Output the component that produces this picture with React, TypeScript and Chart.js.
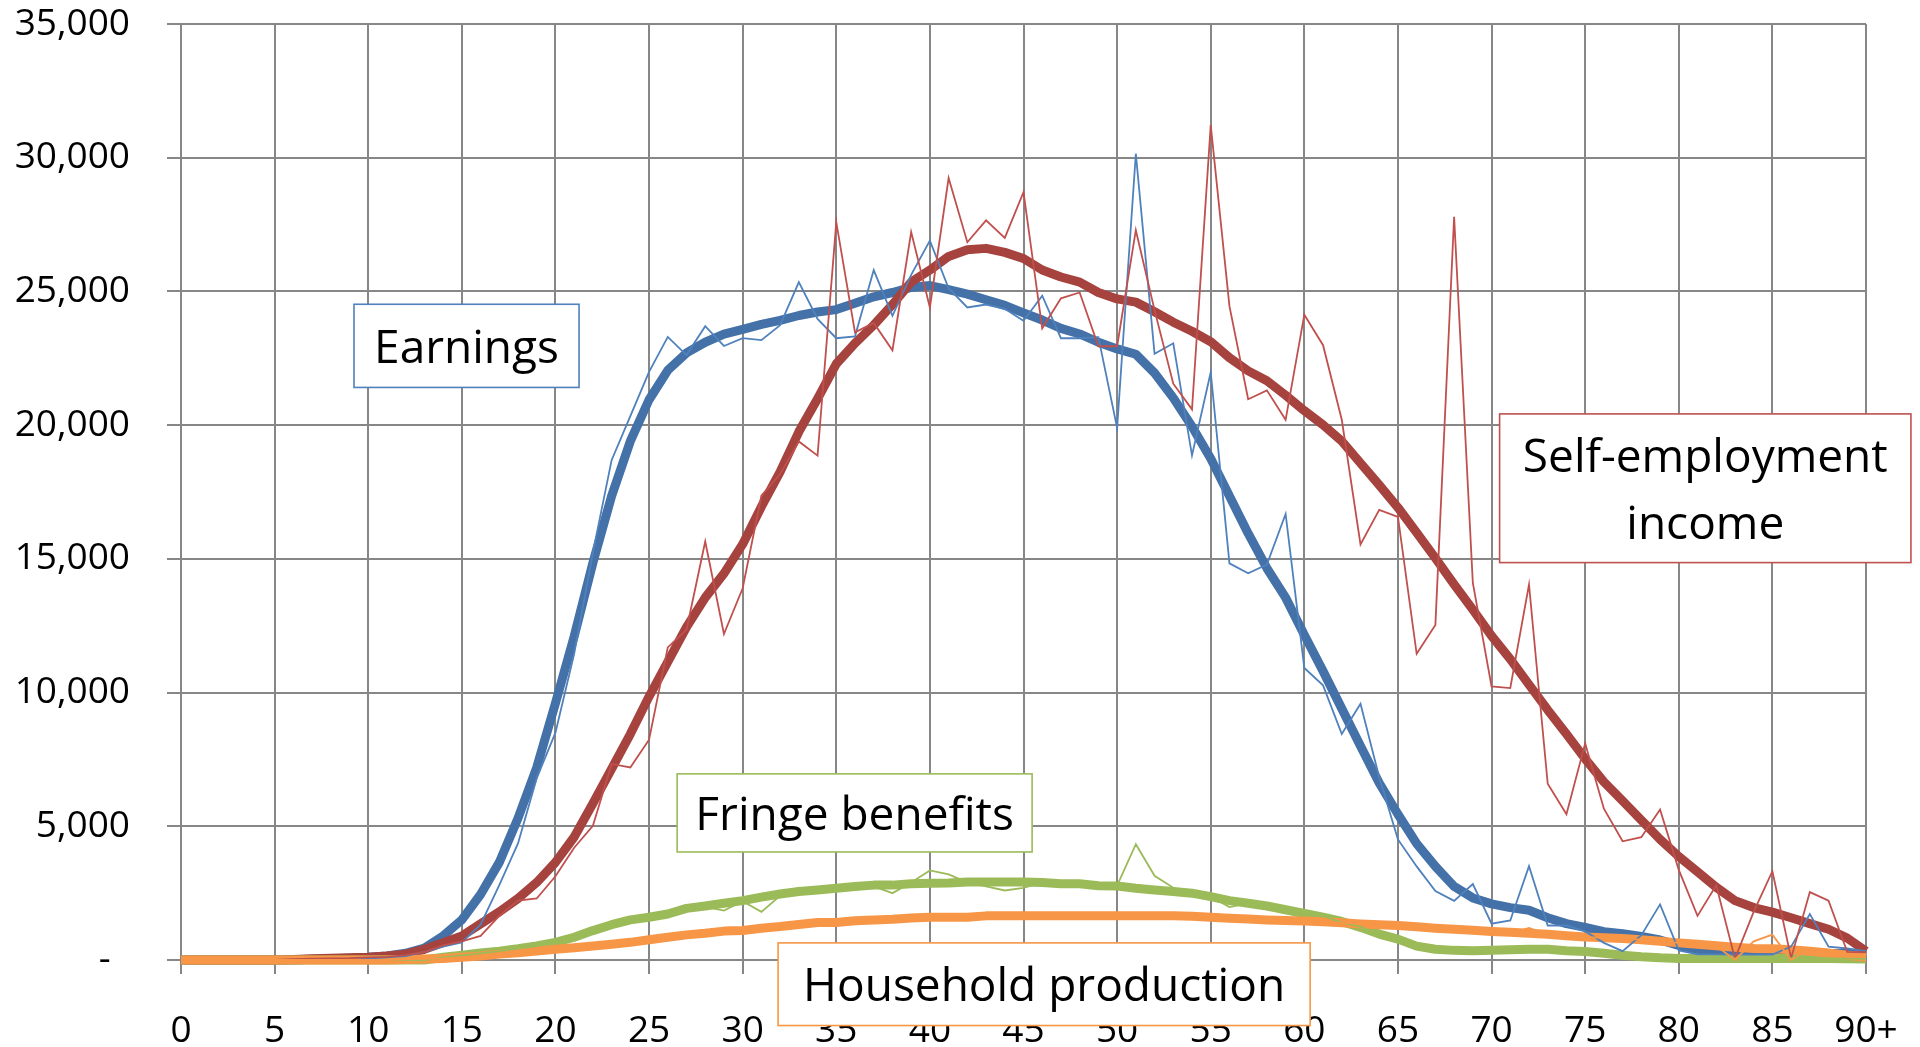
import React, { useEffect, useRef } from "react";
import { Chart, registerables } from "chart.js";

Chart.register(...registerables);

// ---------- data ----------
const ages = [
  0, 1, 2, 3, 4, 5, 6, 7, 8, 9, 10, 11, 12, 13, 14, 15, 16, 17, 18, 19,
  20, 21, 22, 23, 24, 25, 26, 27, 28, 29, 30, 31, 32, 33, 34, 35, 36, 37, 38, 39,
  40, 41, 42, 43, 44, 45, 46, 47, 48, 49, 50, 51, 52, 53, 54, 55, 56, 57, 58, 59,
  60, 61, 62, 63, 64, 65, 66, 67, 68, 69, 70, 71, 72, 73, 74, 75, 76, 77, 78, 79,
  80, 81, 82, 83, 84, 85, 86, 87, 88, 89, 90,
];

const xTickLabels = ["0", "5", "10", "15", "20", "25", "30", "35", "40", "45", "50", "55", "60", "65", "70", "75", "80", "85", "90+"];
const yTickLabels = ["-  ", "5,000", "10,000", "15,000", "20,000", "25,000", "30,000", "35,000"];

const earningsRaw = [
  0, 0, 0, 0, 0, 0, 0, 0, 0, 0,
  50, 100, 150, 300, 500, 660, 1320, 2800, 4360, 6800,
  8500, 11450, 15230, 18690, 20340, 21990, 23300, 22620, 23700, 22960,
  23250, 23180, 23740, 25350, 23970, 23250, 23320, 25800, 24090, 25620,
  26900, 25120, 24400, 24510, 24350, 23900, 24840, 23250, 23250, 23290,
  19900, 30150, 22670, 23060, 18870, 21980, 14830, 14460, 14790, 16680,
  10920, 10270, 8450, 9580, 6830, 4510, 3500, 2580, 2210, 2840,
  1360, 1480, 3510, 1290, 1290, 1070, 640, 330, 930, 2080,
  360, 210, 210, 200, 200, 200, 500, 1720, 500, 430, 330,
];

const earningsSmooth = [
  0, 0, 0, 0, 0, 0, 0, 30, 50, 70,
  100, 150, 250, 450, 900, 1500, 2450, 3650, 5300, 7200,
  9600, 12100, 14850, 17350, 19400, 20950, 22050, 22700, 23100, 23400,
  23580, 23770, 23920, 24100, 24230, 24320, 24560, 24800, 24960, 25150,
  25220, 25070, 24900, 24690, 24480, 24200, 23930, 23620, 23410, 23100,
  22850, 22650, 21950, 21020, 19950, 18750, 17350, 15950, 14650, 13550,
  12150, 10800, 9400, 8000, 6620, 5450, 4350, 3500, 2750, 2320,
  2100, 1960, 1860, 1580, 1360, 1220, 1060, 980, 880, 750,
  540, 400, 300, 250, 240, 240, 240, 240, 240, 240, 250,
];

const selfEmpRaw = [
  0, 0, 0, 0, 0, 0, 30, 50, 60, 70,
  100, 120, 180, 300, 550, 700, 900, 1650, 2220, 2300,
  3130, 4200, 5020, 7330, 7200, 8240, 11690, 12350, 15650, 12190,
  13900, 17360, 18170, 19390, 18860, 27590, 23470, 23820, 22800, 27220,
  24400, 29240, 26840, 27660, 27000, 28710, 23620, 24740, 24960, 22950,
  22950, 27290, 24300, 21550, 20590, 31220, 24450, 20970, 21300, 20200,
  24130, 22990, 20200, 15540, 16830, 16570, 11450, 12530, 27790, 14100,
  10230, 10170, 14040, 6590, 5450, 8100, 5660, 4440, 4590, 5630,
  3370, 1650, 2790, 50, 1800, 3320, 70, 2540, 2220, 300, 290,
];

const selfEmpSmooth = [
  0, 0, 0, 0, 0, 0, 20, 50, 70, 80,
  100, 150, 220, 400, 650, 900, 1350, 1800, 2300, 2900,
  3650, 4600, 5850, 7150, 8450, 9850, 11150, 12450, 13550, 14450,
  15550, 16950, 18250, 19750, 20990, 22290, 23060, 23740, 24510, 25350,
  25800, 26310, 26560, 26610, 26460, 26230, 25800, 25540, 25350, 24960,
  24720, 24600, 24240, 23850, 23510, 23120, 22520, 22030, 21660, 21120,
  20540, 20010, 19400, 18580, 17760, 16920, 15980, 15030, 14050, 13100,
  12120, 11250, 10300, 9350, 8450, 7520, 6660, 5950, 5230, 4510,
  3870, 3300, 2720, 2220, 1960, 1790, 1580, 1360, 1150, 820, 330,
];

const fringeRaw = [
  0, 0, 0, 0, 0, 0, 0, 0, 0, 0,
  0, 0, 0, 0, 100, 170, 250, 330, 430, 520,
  650, 850, 1100, 1320, 1500, 1620, 1750, 2000, 1990, 1850,
  2200, 1800, 2400, 2700, 2550, 2650, 2700, 2750, 2500, 2900,
  3350, 3200, 2900, 2750, 2600, 2700, 2900, 2850, 2850, 2780,
  2780, 4330, 3150, 2700, 2500, 2370, 1980, 2120, 2000, 1850,
  1740, 1650, 1400, 1250, 950, 750, 480, 380, 330, 350,
  350, 380, 420, 500, 360, 320, 250, 180, 120, 80,
  60, 60, 60, 60, 60, 60, 60, 60, 60, 50, 40,
];

const fringeSmooth = [
  0, 0, 0, 0, 0, 0, 0, 0, 0, 0,
  0, 0, 0, 0, 100, 180, 260, 330, 420, 530,
  660, 850, 1100, 1320, 1500, 1600, 1720, 1930, 2020, 2120,
  2220, 2350, 2470, 2560, 2620, 2680, 2750, 2800, 2800, 2850,
  2870, 2880, 2920, 2920, 2920, 2920, 2900, 2850, 2850, 2780,
  2770, 2680, 2620, 2560, 2500, 2370, 2220, 2120, 2020, 1880,
  1740, 1600, 1440, 1220, 970, 780, 520, 400, 360, 350,
  360, 380, 400, 400, 350, 320, 250, 180, 120, 80,
  60, 60, 60, 60, 60, 60, 60, 60, 60, 50, 40,
];

const householdRaw = [
  0, 0, 0, 0, 0, 0, 0, 0, 0, 0,
  0, 0, 20, 40, 60, 100, 150, 220, 275, 340,
  400, 460, 520, 590, 660, 760, 850, 940, 1000, 1080,
  1100, 1190, 1250, 1330, 1400, 1400, 1470, 1500, 1520, 1570,
  1600, 1600, 1600, 1650, 1650, 1650, 1650, 1650, 1650, 1650,
  1650, 1650, 1650, 1650, 1640, 1600, 1560, 1530, 1500, 1480,
  1460, 1430, 1390, 1350, 1320, 1290, 1240, 1190, 1150, 1110,
  1070, 1000, 1200, 950, 910, 860, 830, 800, 760, 700,
  640, 590, 530, 0, 700, 950, 0, 450, 280, 200, 100,
];

const householdSmooth = [
  0, 0, 0, 0, 0, 0, 0, 0, 0, 0,
  0, 0, 20, 40, 60, 100, 150, 220, 275, 340,
  400, 460, 520, 590, 660, 760, 850, 940, 1000, 1080,
  1100, 1190, 1250, 1330, 1400, 1400, 1470, 1500, 1520, 1570,
  1600, 1600, 1600, 1650, 1650, 1650, 1650, 1650, 1650, 1650,
  1650, 1650, 1650, 1650, 1640, 1600, 1560, 1530, 1500, 1480,
  1460, 1430, 1390, 1350, 1320, 1290, 1240, 1190, 1150, 1110,
  1070, 1040, 1000, 960, 910, 860, 830, 800, 760, 700,
  640, 590, 530, 480, 430, 420, 380, 330, 260, 180, 100,
];

// annotation boxes, anchored in data coordinates
const annotationTexts = [["Earnings"], ["Self-employment", "income"], ["Fringe benefits"], ["Household production"]];
const annotationColors = ["#4F81BD", "#C0504D", "#9BBB59", "#F79646"];
const annotationXRange = [[9.24, 21.26], [70.43, 92.4], [26.5, 45.46], [31.89, 60.31]];
const annotationYRange = [[21410, 24520], [14860, 20420], [4040, 6960], [-2450, 640]];

const FONT = "'Open Sans', 'Noto Sans', sans-serif";

const toPoints = (vals: number[]) => ages.map((a, i) => ({ x: a, y: vals[i] }));

const annotationPlugin = {
  id: "boxLabels",
  afterDraw(chart: any) {
    const { ctx, scales } = chart;
    const xs = scales.x;
    const ys = scales.y;
    ctx.save();
    annotationTexts.forEach((lines, i) => {
      const x1 = xs.getPixelForValue(annotationXRange[i][0]);
      const x2 = xs.getPixelForValue(annotationXRange[i][1]);
      const y1 = ys.getPixelForValue(annotationYRange[i][1]);
      const y2 = ys.getPixelForValue(annotationYRange[i][0]);
      ctx.fillStyle = "#ffffff";
      ctx.fillRect(x1, y1, x2 - x1, y2 - y1);
      ctx.strokeStyle = annotationColors[i];
      ctx.lineWidth = 1.6;
      ctx.strokeRect(x1, y1, x2 - x1, y2 - y1);
      ctx.fillStyle = "#000000";
      ctx.font = `46px ${FONT}`;
      ctx.textAlign = "center";
      ctx.textBaseline = "middle";
      const lh = 67;
      const cx = (x1 + x2) / 2;
      const cy = (y1 + y2) / 2 + 4;
      lines.forEach((t, j) => {
        ctx.fillText(t, cx, cy + (j - (lines.length - 1) / 2) * lh);
      });
    });
    ctx.restore();
  },
};

export default function App() {
  const canvasRef = useRef<HTMLCanvasElement | null>(null);

  useEffect(() => {
    if (!canvasRef.current) return;
    const thin = (data: number[], color: string) => ({
      data: toPoints(data),
      borderColor: color,
      backgroundColor: color,
      borderWidth: 1.8,
      pointRadius: 0,
      tension: 0,
      fill: false,
      clip: false as any,
      borderJoinStyle: "miter" as const,
    });
    const thick = (data: number[], color: string) => ({
      data: toPoints(data),
      borderColor: color,
      backgroundColor: color,
      borderWidth: 9,
      pointRadius: 0,
      tension: 0,
      fill: false,
      clip: false as any,
      borderJoinStyle: "round" as const,
      borderCapStyle: "butt" as const,
    });

    const grid = "#878787";
    const chart = new Chart(canvasRef.current, {
      type: "line",
      data: {
        datasets: [
          // first dataset is drawn on top
          thin(householdRaw, "#F79646"),
          thin(fringeRaw, "#9BBB59"),
          thin(selfEmpRaw, "#C0504D"),
          thin(earningsRaw, "#4F81BD"),
          thick(householdSmooth, "#F79646"),
          thick(fringeSmooth, "#9BBB59"),
          thick(selfEmpSmooth, "#A6433E"),
          thick(earningsSmooth, "#4471A8"),
        ],
      },
      options: {
        animation: false,
        responsive: true,
        maintainAspectRatio: false,
        events: [],
        layout: { padding: { top: 24, right: 54, bottom: 0, left: 0 } },
        plugins: {
          legend: { display: false },
          tooltip: { enabled: false },
          title: { display: false },
        },
        scales: {
          x: {
            type: "linear",
            min: 0,
            max: 90,
            afterFit: (s: any) => {
              s.height = 87;
              s.paddingLeft = 0;
              s.paddingRight = 0;
            },
            ticks: {
              stepSize: 5,
              autoSkip: false,
              maxRotation: 0,
              padding: 35,
              color: "#000000",
              font: { family: FONT, size: 37 },
              callback: (v: any) => xTickLabels[Math.round(Number(v) / 5)],
            },
            grid: { color: grid, lineWidth: 2, tickLength: 14, drawTicks: true },
            border: { display: true, color: grid, width: 2 },
          },
          y: {
            type: "linear",
            min: 0,
            max: 35000,
            afterFit: (s: any) => {
              s.width = 181;
              s.paddingTop = 0;
              s.paddingBottom = 0;
            },
            ticks: {
              stepSize: 5000,
              padding: 37,
              color: "#000000",
              font: { family: FONT, size: 37 },
              callback: (v: any) => yTickLabels[Math.round(Number(v) / 5000)],
            },
            grid: { color: grid, lineWidth: 2, tickLength: 14, drawTicks: true },
            border: { display: true, color: grid, width: 2 },
          },
        },
      },
      plugins: [annotationPlugin],
    });
    return () => chart.destroy();
  }, []);

  return (
    <div style={{ position: "fixed", left: 0, top: 0, width: "100vw", height: "100vh", background: "#ffffff" }}>
      <canvas ref={canvasRef} />
    </div>
  );
}
